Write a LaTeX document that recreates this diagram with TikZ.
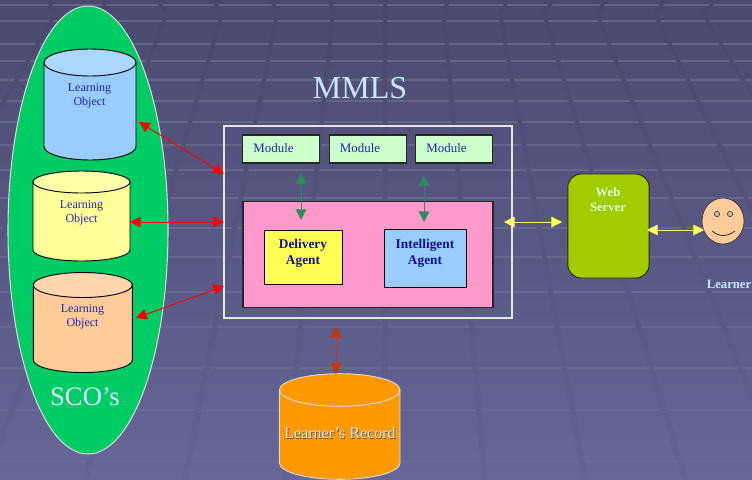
\documentclass[tikz,border=0pt]{standalone}
\usepackage{fontspec}
\setmainfont{Liberation Serif}
\usetikzlibrary{shapes.geometric}
\usetikzlibrary{arrows.meta}
\definecolor{Bg Top}{HTML}{4A4A70}
\definecolor{Bg Bottom}{HTML}{666698}
\definecolor{Blue Text}{HTML}{2222AA}
\definecolor{Bold Text}{HTML}{10109A}
\definecolor{Sco Green}{HTML}{00CC66}
\definecolor{Pale Blue}{HTML}{CCE6FF}
\definecolor{Sky Fill}{HTML}{99CCFF}
\definecolor{Sky Top}{HTML}{AAD6FF}
\definecolor{Lemon Fill}{HTML}{FFFF99}
\definecolor{Lemon Top}{HTML}{FFFFAA}
\definecolor{Peach Fill}{HTML}{FFCC99}
\definecolor{Peach Top}{HTML}{FFD6AD}
\definecolor{Mint Fill}{HTML}{CCFFCC}
\definecolor{Pink Fill}{HTML}{FF99CC}
\definecolor{Agent Yellow}{HTML}{FFFF55}
\definecolor{Server Green}{HTML}{A0CC00}
\definecolor{Record Orange}{HTML}{FF9900}
\definecolor{Sea Green}{HTML}{2E8B60}
\definecolor{Rust Red}{HTML}{CC3300}
\definecolor{Link Yellow}{HTML}{FFFF66}
\tikzset{Grid Line/.style = {line width = 1.1pt, white}}
\tikzset{pics/Drum/.style n args = {6}{code = {
    \filldraw[draw = #6, fill = #4, line width = 0.7pt] (-#1, -#2) -- (-#1, #2)
      arc[start angle = 180, end angle = 0, x radius = #1, y radius = #3] -- (#1, -#2) -- cycle;
    \filldraw[draw = #6, fill = #5, line width = 0.7pt] (0, -#2) ellipse[x radius = #1, y radius = #3];
  }}}
\tikzset{Store Text/.style = {font = \fontsize{9}{10.5}\selectfont, text = Blue Text, align = center}}
\tikzset{Module Box/.style = {draw = black!85, fill = Mint Fill, line width = 0.9pt, minimum width = 57.5pt,
    minimum height = 21pt, inner sep = 0pt}}
\tikzset{Module Text/.style = {font = \fontsize{9.7}{11}\selectfont, text = Blue Text}}
\tikzset{Agent Text/.style = {font = \fontsize{10}{12}\selectfont\bfseries, text = Bold Text, align = center}}
\tikzset{Both Ways/.style = {line width = 0.7pt, {Triangle[length = 8pt, width = 8pt]}-{Triangle[length = 8pt, width = 8pt]}}}

\begin{document}
\begin{tikzpicture}[x = 0.75pt, y = -0.75pt]
  \useasboundingbox (0, 0) rectangle (752, 479);
  \shade[top color = Bg Top, bottom color = Bg Bottom] (0, 0) rectangle (752, 479);

  % backdrop
  \foreach \yy in {5, 21, 44, 61, 80, 101, 122, 145, 170, 198, 228, 257, 292, 327, 368, 410, 462} {
    \pgfmathsetmacro{\oo}{0.15 - 0.12 * \yy / 479}
    \draw[Grid Line, opacity = \oo] (0, \yy) -- (752, \yy);
  }
  \foreach \xt/\xk/\xb in {48/55/-215, 102/108/-115, 157/167/-15, 213/222/85, 272/277/185, 330/333/285,
      385/385/385, 448/444/485, 508/500/585, 553/544/685, 605/597/785, 665/655/885, 716/703/985} {
    \shade[top color = Bg Top!97!black, bottom color = Bg Bottom!97!black]
      (\xt - 2, 0) -- (\xk - 2, 14) -- (\xb - 3, 479) -- (\xb + 3, 479) -- (\xk + 2, 14) -- (\xt + 2, 0) -- cycle;
  }

  % learning objects
  \node[ellipse, draw = white!85!black, line width = 0.8pt, fill = Sco Green,
    minimum width = 120pt, minimum height = 336pt, inner sep = 0pt] (sco) at (88, 230) {};
  \node[font = \fontsize{20}{22}\selectfont, text = Pale Blue!60!white] (scolabel) at (85, 397) {SCO’s};

  \pic (obj1) at (90, 104.5) {Drum = {46}{42}{13.5}{Sky Fill}{Sky Top}{black}};
  \node[Store Text] (obj1text) at (89.5, 96) {Learning\\Object};
  \pic (obj2) at (81.5, 216) {Drum = {48.5}{34}{11}{Lemon Fill}{Lemon Top}{black}};
  \node[Store Text] (obj2text) at (81.5, 212.5) {Learning\\Object};
  \pic (obj3) at (82.8, 322.5) {Drum = {49.5}{37.5}{12.5}{Peach Fill}{Peach Top}{black}};
  \node[Store Text] (obj3text) at (82.5, 316.5) {Learning\\Object};

  % mmls
  \node[font = \fontsize{24}{26}\selectfont, text = Pale Blue] (mmlslabel) at (360, 88) {MMLS};
  \node[draw = white!90!black, line width = 0.9pt, minimum width = 216pt, minimum height = 144pt, inner sep = 0pt] (mmls) at (368, 222) {};
  \node[Module Box] (mod1) at (281, 149) {};
  \node[Module Text] (mod1text) at (273.5, 148) {Module};
  \node[Module Box] (mod2) at (368, 149) {};
  \node[Module Text] (mod2text) at (360, 148) {Module};
  \node[Module Box] (mod3) at (454, 149) {};
  \node[Module Text] (mod3text) at (446.5, 148) {Module};
  \node[draw = black!85, fill = Pink Fill, line width = 0.9pt, minimum width = 187.5pt, minimum height = 79pt, inner sep = 0pt] (core) at (368, 254.5) {};
  \node[draw = black, fill = Agent Yellow, line width = 0.7pt, minimum width = 58.5pt, minimum height = 41pt, inner sep = 0pt] (delivery) at (303, 257.5) {};
  \node[Agent Text] (deliverytext) at (303, 253) {Delivery\\Agent};
  \node[draw = black, fill = Sky Fill, line width = 0.7pt, minimum width = 61.5pt, minimum height = 43pt, inner sep = 0pt] (intelligent) at (425, 258.5) {};
  \node[Agent Text] (intelligenttext) at (425, 253) {Intelligent\\Agent};

  % web server and learner
  \node[draw = black!85, fill = Server Green, line width = 0.7pt, rounded corners = 10pt, minimum width = 61pt, minimum height = 78pt, inner sep = 0pt] (web) at (608.5, 226) {};
  \node[font = \fontsize{9.5}{11.5}\selectfont\bfseries, text = green!12!white, align = center] (webtext) at (608, 199.5) {Web\\Server};
  \node[ellipse, draw = black!85, fill = Peach Fill, minimum width = 31.5pt, minimum height = 34.5pt, inner sep = 0pt] (learner) at (723, 221) {};
  \node[circle, draw = black!85, fill = gray!50, minimum size = 4pt, inner sep = 0pt] (eyeleft) at (717, 214) {};
  \node[circle, draw = black!85, fill = gray!50, minimum size = 4pt, inner sep = 0pt] (eyeright) at (730, 214) {};
  \coordinate (smilel) at (712, 231);
  \coordinate (smiler) at (735, 231);
  \draw[black!85, line width = 0.6pt] (smilel) .. controls (719, 237) and (727, 237) .. (smiler);
  \node[font = \fontsize{9.5}{11}\selectfont\bfseries, text = Pale Blue] (learnerlabel) at (729, 284) {Learner};

  % record
  \pic (record) at (339.7, 426.5) {Drum = {60.3}{36.5}{16.3}{Record Orange}{Record Orange}{white!85!black}};
  \node[font = \fontsize{12}{13}\selectfont, text = black!70] (recordshadow) at (340.7, 433.7) {Learner’s Record};
  \node[font = \fontsize{12}{13}\selectfont, text = Pale Blue] (recordtext) at (340, 433) {Learner’s Record};

  % connectors
  \coordinate (a1) at (139, 122);
  \coordinate (b1) at (224, 174);
  \coordinate (a2) at (130, 222);
  \coordinate (b2) at (224, 222);
  \coordinate (a3) at (136, 318);
  \coordinate (b3) at (224, 286);
  \draw[Both Ways, red] (a1) -- (b1);
  \draw[Both Ways, red] (a2) -- (b2);
  \draw[Both Ways, red] (a3) -- (b3);
  \coordinate (c1) at (301, 173);
  \coordinate (d1) at (301, 220);
  \coordinate (c2) at (424, 175);
  \coordinate (d2) at (424, 222);
  \draw[Both Ways, Sea Green] (c1) -- (d1);
  \draw[Both Ways, Sea Green] (c2) -- (d2);
  \coordinate (e1) at (504, 222);
  \coordinate (f1) at (562, 222);
  \coordinate (e2) at (647, 230);
  \coordinate (f2) at (704, 230);
  \draw[Both Ways, Link Yellow] (e1) -- (f1);
  \draw[Both Ways, Link Yellow] (e2) -- (f2);
  \coordinate (g1) at (336, 327);
  \coordinate (h1) at (336, 374);
  \draw[Both Ways, Rust Red] (g1) -- (h1);
\end{tikzpicture}
\end{document}
